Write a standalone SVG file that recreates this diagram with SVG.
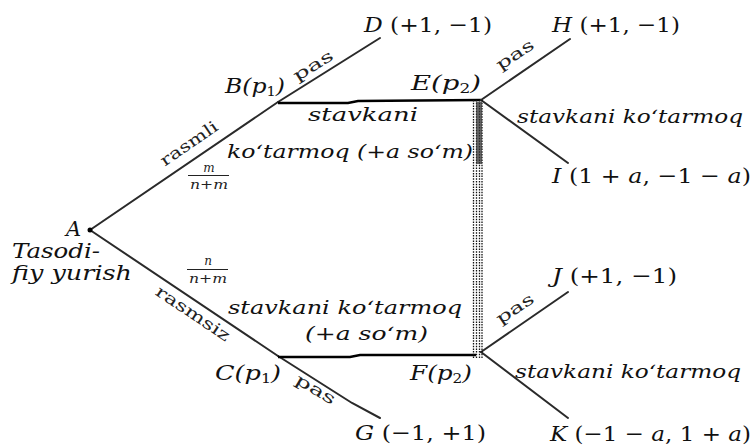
<svg xmlns="http://www.w3.org/2000/svg" width="753" height="445" viewBox="0 0 753 445">
<style>
  .edge { stroke: #2a2a2a; stroke-width: 2; fill: none; stroke-linecap: round; }
  .hedge { stroke: #000; stroke-width: 2.5; fill: none; }
  .dot { stroke: #111; stroke-width: 1.3; stroke-dasharray: 1.5 1.2; fill: none; }
  text { font-family: 'DejaVu Serif', 'Liberation Serif', serif; }
  .lbl { font-style: italic; font-size: 21px; fill: #111; }
  .num { font-style: normal; font-size: 21px; fill: #111; }
  .act { font-style: italic; font-size: 19px; fill: #111; }
  .rom { font-size: 16px; fill: #222; }
  .frac { font-style: italic; font-size: 12px; fill: #222; }
</style>
<rect width="753" height="445" fill="#ffffff"/>

<g id="connectors">
  <line class="edge" x1="90" y1="230" x2="278" y2="102"/>
  <line class="edge" x1="278" y1="102" x2="380" y2="38"/>
  <line class="edge" x1="90" y1="230" x2="278" y2="356"/>
  <path class="edge" d="M278,356 L352,403 L380,418"/>
  <path class="hedge" d="M278,103 L348,103 L358,101 L481,100"/>
  <path class="hedge" d="M278,357 L350,357 L360,355 L476,355"/>
  <line class="edge" x1="481" y1="100" x2="570" y2="39"/>
  <line class="edge" x1="481" y1="100" x2="568" y2="163"/>
  <line class="edge" x1="481" y1="352" x2="568" y2="292"/>
  <line class="edge" x1="481" y1="352" x2="568" y2="418"/>
  <g id="info-set">
    <line class="dot" x1="473.5" y1="100" x2="473.5" y2="358"/>
    <line class="dot" x1="476.5" y1="100" x2="476.5" y2="358"/>
    <line class="dot" x1="479.5" y1="100" x2="479.5" y2="358"/>
    <line class="dot" x1="482" y1="100" x2="482" y2="358"/>
    <rect x="476" y="102" width="6" height="62" fill="#333" opacity="0.75"/>
  </g>
  <text class="rom" transform="translate(192,148) rotate(-34.5)" text-anchor="middle" textLength="66" lengthAdjust="spacingAndGlyphs">rasmli</text>
  <text class="rom" transform="translate(190,318) rotate(33.8)" text-anchor="middle" textLength="86" lengthAdjust="spacingAndGlyphs">rasmsiz</text>
  <text class="rom" transform="translate(316,70) rotate(-32)" text-anchor="middle" textLength="44" lengthAdjust="spacingAndGlyphs">pas</text>
  <text class="rom" transform="translate(518,59) rotate(-34)" text-anchor="middle" textLength="42" lengthAdjust="spacingAndGlyphs">pas</text>
  <text class="rom" transform="translate(313,394) rotate(30.5)" text-anchor="middle" textLength="44" lengthAdjust="spacingAndGlyphs">pas</text>
  <text class="rom" transform="translate(518,313) rotate(-34)" text-anchor="middle" textLength="42" lengthAdjust="spacingAndGlyphs">pas</text>
  <g id="frac-m">
    <text class="frac" x="209" y="172" text-anchor="middle">m</text>
    <line x1="188" y1="175.5" x2="229" y2="175.5" stroke="#222" stroke-width="1.2"/>
    <text class="frac" x="209" y="189" text-anchor="middle" textLength="38" lengthAdjust="spacingAndGlyphs">n+m</text>
  </g>
  <g id="frac-n">
    <text class="frac" x="208" y="265" text-anchor="middle">n</text>
    <line x1="187" y1="269.5" x2="228" y2="269.5" stroke="#222" stroke-width="1.2"/>
    <text class="frac" x="208" y="283" text-anchor="middle" textLength="38" lengthAdjust="spacingAndGlyphs">n+m</text>
  </g>
  <text class="act" x="308" y="121" textLength="110" lengthAdjust="spacingAndGlyphs">stavkani</text>
  <text class="act" x="227" y="158" textLength="246" lengthAdjust="spacingAndGlyphs">ko‘tarmoq (+a so‘m)</text>
  <text class="act" x="228" y="314" textLength="234" lengthAdjust="spacingAndGlyphs">stavkani ko‘tarmoq</text>
  <text class="act" x="305" y="340" textLength="123" lengthAdjust="spacingAndGlyphs">(+a  so‘m)</text>
  <text class="act" x="517" y="123" textLength="226" lengthAdjust="spacingAndGlyphs">stavkani ko‘tarmoq</text>
  <text class="act" x="515" y="378" textLength="226" lengthAdjust="spacingAndGlyphs">stavkani ko‘tarmoq</text>
</g>

<g id="node-A">
  <circle cx="90" cy="230" r="2.5" fill="#000"/>
  <text class="lbl" x="66" y="236" font-size="22">A</text>
  <text class="lbl" x="12" y="258" textLength="88" lengthAdjust="spacingAndGlyphs">Tasodi-</text>
  <text class="lbl" x="12" y="280" textLength="120" lengthAdjust="spacingAndGlyphs">fiy yurish</text>
</g>
<g id="node-B">
  <text class="lbl" x="225" y="93" textLength="60" lengthAdjust="spacingAndGlyphs">B(p<tspan font-size="13" dy="3" font-style="normal">1</tspan><tspan dy="-3">)</tspan></text>
</g>
<g id="node-C">
  <text class="lbl" x="215" y="380" textLength="66" lengthAdjust="spacingAndGlyphs">C(p<tspan font-size="13" dy="3" font-style="normal">1</tspan><tspan dy="-3">)</tspan></text>
</g>
<g id="node-D">
  <text class="lbl" x="364" y="32" textLength="128" lengthAdjust="spacingAndGlyphs">D <tspan class="num">(+1, −1)</tspan></text>
</g>
<g id="node-E">
  <text class="lbl" x="411" y="90" textLength="70" lengthAdjust="spacingAndGlyphs">E(p<tspan font-size="13" dy="3" font-style="normal">2</tspan><tspan dy="-3">)</tspan></text>
</g>
<g id="node-F">
  <text class="lbl" x="410" y="380" textLength="62" lengthAdjust="spacingAndGlyphs">F(p<tspan font-size="13" dy="3" font-style="normal">2</tspan><tspan dy="-3">)</tspan></text>
</g>
<g id="node-G">
  <text class="lbl" x="355" y="440" textLength="131" lengthAdjust="spacingAndGlyphs">G <tspan class="num">(−1, +1)</tspan></text>
</g>
<g id="node-H">
  <text class="lbl" x="552" y="32" textLength="128" lengthAdjust="spacingAndGlyphs">H <tspan class="num">(+1, −1)</tspan></text>
</g>
<g id="node-I">
  <text class="lbl" x="552" y="183" textLength="199" lengthAdjust="spacingAndGlyphs">I <tspan class="num">(1 + </tspan>a<tspan class="num">, −1 − </tspan>a<tspan class="num">)</tspan></text>
</g>
<g id="node-J">
  <text class="lbl" x="552" y="283" textLength="125" lengthAdjust="spacingAndGlyphs">J <tspan class="num">(+1, −1)</tspan></text>
</g>
<g id="node-K">
  <text class="lbl" x="550" y="441" textLength="201" lengthAdjust="spacingAndGlyphs">K <tspan class="num">(−1 − </tspan>a<tspan class="num">, 1 + </tspan>a<tspan class="num">)</tspan></text>
</g>
</svg>
